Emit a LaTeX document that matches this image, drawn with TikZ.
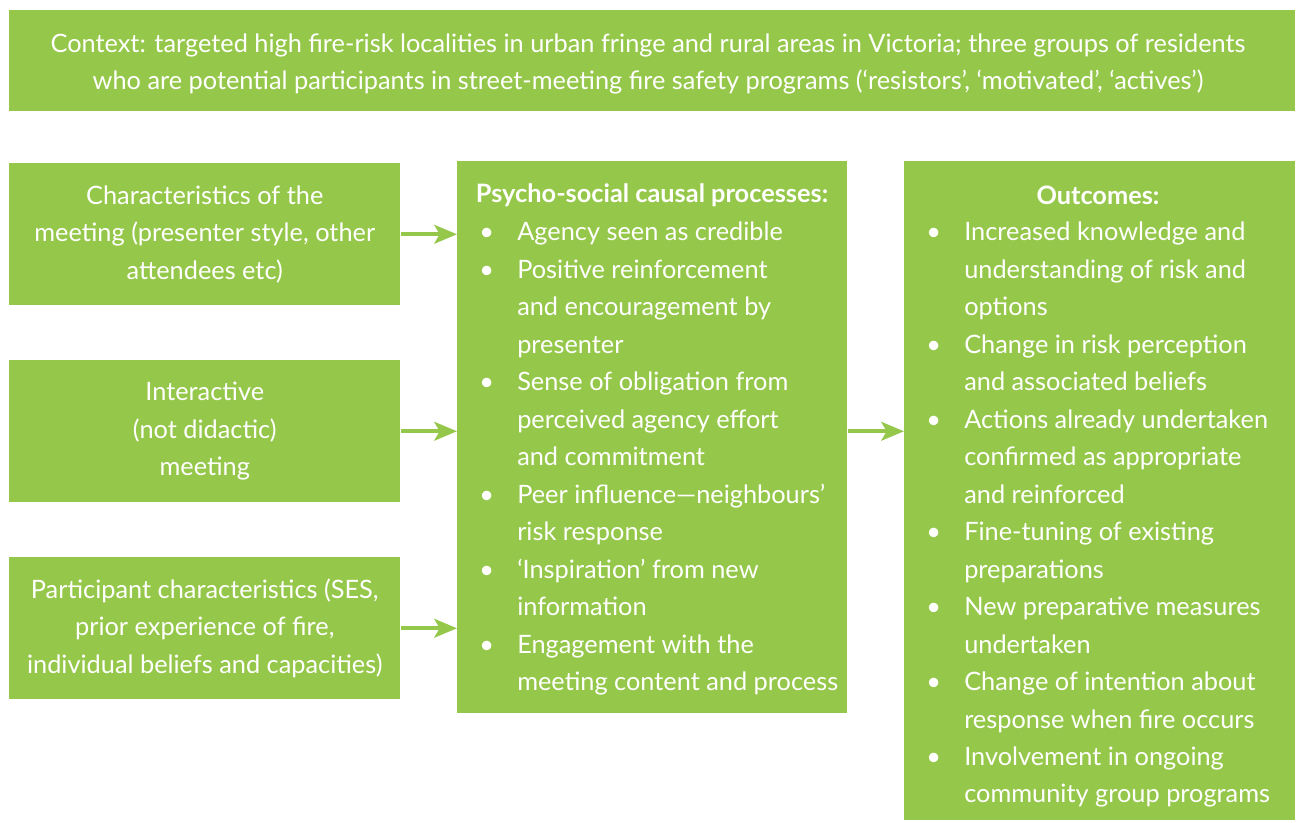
\documentclass[tikz,border=0pt]{standalone}
\usepackage{fontspec}
\setmainfont{Lato}
\usetikzlibrary{arrows.meta}
\definecolor{leaf}{HTML}{95C84A}
\newcommand{\bul}{\makebox[28.5pt][l]{•}}
\newcommand{\ind}{\hspace*{28.5pt}}
\tikzset{
  box/.style={fill=leaf, draw=none, inner sep=0pt, anchor=north west},
  txt/.style={text=white, font=\fontsize{19}{28.1}\selectfont, inner sep=0pt},
  arr/.style={draw=leaf, line width=3pt, -{Stealth[length=17pt,width=14pt,inset=4pt]}}
}
\begin{document}
\begin{tikzpicture}[x=0.75pt,y=-0.75pt]
\useasboundingbox (0,0) rectangle (1300,822);
\node[box, minimum width=1286*0.75pt, minimum height=101*0.75pt] (top) at (9,10) {};
\node[box, minimum width=391*0.75pt, minimum height=142*0.75pt] (b1) at (9,163) {};
\node[box, minimum width=391*0.75pt, minimum height=142*0.75pt] (b2) at (9,360) {};
\node[box, minimum width=391*0.75pt, minimum height=142*0.75pt] (b3) at (9,557) {};
\node[box, minimum width=390*0.75pt, minimum height=552*0.75pt] (mid) at (457,161) {};
\node[box, minimum width=391*0.75pt, minimum height=659*0.75pt] (out) at (904,161) {};

\node[txt, align=center] (ttop) at (648,64) {Context: targeted high fire-risk localities in urban fringe and rural areas in Victoria; three groups of residents\\who are potential participants in street-meeting fire safety programs (‘resistors’, ‘motivated’, ‘actives’)};
\node[txt, align=center] (t1) at (b1.center) {Characteristics of the\\meeting (presenter style, other\\attendees etc)};
\node[txt, align=center] (t2) at (b2.center) {Interactive\\(not didactic)\\meeting};
\node[txt, align=center] (t3) at (b3.center) {Participant characteristics (SES,\\prior experience of fire,\\individual beliefs and capacities)};

\node[txt, font=\fontsize{19}{28.1}\selectfont\bfseries] (mt) at (652,195) {Psycho-social causal processes:};
\node[txt, align=left, anchor=north west] (ml) at (479,222) {%
\bul Agency seen as credible\\
\bul Positive reinforcement\\
\ind and encouragement by\\
\ind presenter\\
\bul Sense of obligation from\\
\ind perceived agency effort\\
\ind and commitment\\
\bul Peer influence—neighbours’\\
\ind risk response\\
\bul ‘Inspiration’ from new\\
\ind information\\
\bul Engagement with the\\
\ind meeting content and process};

\node[txt, font=\fontsize{19}{28.1}\selectfont\bfseries] (ot) at (1098,195) {Outcomes:};
\node[txt, align=left, anchor=north west] (ol) at (926,222) {%
\bul Increased knowledge and\\
\ind understanding of risk and\\
\ind options\\
\bul Change in risk perception\\
\ind and associated beliefs\\
\bul Actions already undertaken\\
\ind confirmed as appropriate\\
\ind and reinforced\\
\bul Fine-tuning of existing\\
\ind preparations\\
\bul New preparative measures\\
\ind undertaken\\
\bul Change of intention about\\
\ind response when fire occurs\\
\bul Involvement in ongoing\\
\ind community group programs};

\draw[arr] (b1.east) -- (mid.west |- b1.east);
\draw[arr] (b2.east) -- (mid.west |- b2.east);
\draw[arr] (b3.east) -- (mid.west |- b3.east);
\draw[arr] (mid.east |- b2.east) -- (out.west |- b2.east);
\end{tikzpicture}
\end{document}
